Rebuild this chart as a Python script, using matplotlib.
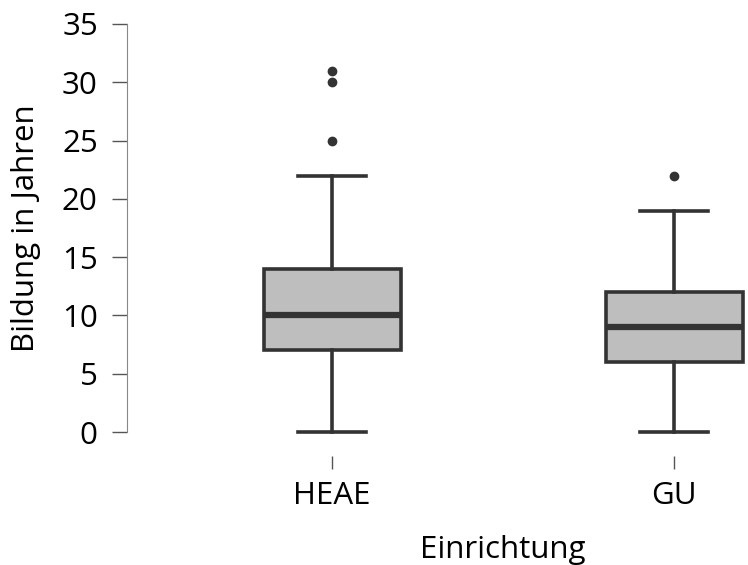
import matplotlib
matplotlib.use("Agg")
import matplotlib.pyplot as plt

# data (years of education per facility)
groups = ["HEAE", "GU"]
q1 = [7, 6]
median = [10, 9]
q3 = [14, 12]
whisker_lo = [0, 0]
whisker_hi = [22, 19]
outliers = [[25, 30, 31], [22]]

plt.rcParams["font.family"] = ["Open Sans", "DejaVu Sans"]

edge = "#333333"
stats = [dict(label=g, q1=a, med=m, q3=b, whislo=lo, whishi=hi, fliers=f)
         for g, a, m, b, lo, hi, f in zip(groups, q1, median, q3, whisker_lo, whisker_hi, outliers)]

fig = plt.figure(figsize=(7.48, 5.65), dpi=100)
ax = fig.add_axes([0.1698, 0.2147, 0.823, 0.7635])

bp = ax.bxp(stats, positions=range(len(groups)), widths=0.4, patch_artist=True,
            boxprops=dict(facecolor="#bebebe", edgecolor=edge, linewidth=2.6),
            medianprops=dict(color=edge, linewidth=4.5),
            whiskerprops=dict(color=edge, linewidth=2.6),
            capprops=dict(color=edge, linewidth=2.6),
            capwidths=0.2,
            flierprops=dict(marker="o", markerfacecolor=edge, markeredgecolor=edge, markersize=6))
for group in bp.values():
    for art in group:
        art.set_clip_on(False)

ax.set_xlim(-0.6, 1.2)
ax.set_ylim(-1, 36)
ax.set_yticks(range(0, 36, 5))
ax.spines["left"].set_bounds(0, 35)
ax.spines["left"].set_color("#888888")
for s in ["top", "right", "bottom"]:
    ax.spines[s].set_visible(False)
ax.spines["bottom"].set_position(("outward", 9))

ax.tick_params(axis="y", length=11, width=1, color="#555555", pad=10, labelsize=22.5)
ax.tick_params(axis="x", length=9, width=1, color="#555555", pad=9, labelsize=22.5)
ax.set_xticks(range(len(groups)))
ax.set_xticklabels(groups)

ax.set_ylabel("Bildung in Jahren", fontsize=22.5)
ax.yaxis.set_label_coords(-0.14, (17.5 + 1) / 37)
ax.set_xlabel("Einrichtung", fontsize=22.5)
ax.xaxis.set_label_coords((0.5 + 0.6) / 1.8, -0.212)

fig.savefig("out.png", dpi=100)
